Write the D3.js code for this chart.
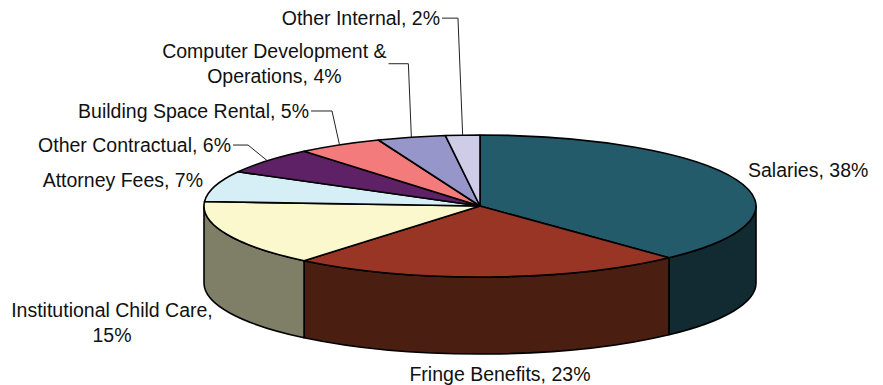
<!DOCTYPE html>
<html>
<head>
<meta charset="utf-8">
<script src="https://cdn.jsdelivr.net/npm/d3@7/dist/d3.min.js"></script>
<style>
  html, body { margin: 0; padding: 0; background: #fff; }
  svg { display: block; }
  text { font-family: "Liberation Sans", Arial, sans-serif; font-size: 19.5px; fill: #111; }
</style>
</head>
<body>
<svg id="chart" width="883" height="385"></svg>
<script>
// Expense categories and their share of total spending (percent)
const categories = [
  "Salaries",
  "Fringe Benefits",
  "Institutional Child Care",
  "Attorney Fees",
  "Other Contractual",
  "Building Space Rental",
  "Computer Development & Operations",
  "Other Internal"
];
const percents = [38, 23, 15, 7, 6, 5, 4, 2];

// Top-face and wall colours per slice
const topColors  = ["#235b6b", "#983524", "#fbf8cd", "#d6eef5", "#5f2165", "#f37b7c", "#9696ca", "#cecce6"];
const sideColors = ["#122b33", "#4a1e10", "#7f7f68", "#6b777a", "#2f1032", "#793d3e", "#4b4b65", "#676673"];

// Label placement relative to each slice's rim point; wrap = words on first line
const labelLayout = [
  { dx:  11.4, dy:  -2.9, anchor: "start"  },
  { dx:  11.3, dy: 104.0, anchor: "middle" },
  { dx: -114.7, dy: 82.8, anchor: "middle", wrap: 3 },
  { dx: -11.9, dy:   0.8, anchor: "end"    },
  { dx: -36.3, dy:  -8.7, anchor: "end",    leader: -19.3 },
  { dx: -30.5, dy: -26.9, anchor: "end",    leader: -7.5 },
  { dx: -137,  dy: -79,   anchor: "middle", wrap: 3, leader: -3 },
  { dx: -22.7, dy: -110,  anchor: "end",    leader: -4.7 }
];

const cx = 480, cy = 206, rx = 276, ry = 71, depth = 77;
const lineH = 25;

// Ellipse projection: unit circle -> screen
const sx = d3.scaleLinear().domain([-1, 1]).range([cx - rx, cx + rx]);
const sy = d3.scaleLinear().domain([-1, 1]).range([cy - ry, cy + ry]);
const pt = (a, off = 0) => [sx(Math.sin(a)), sy(-Math.cos(a)) + off];

const pie = d3.pie().sort(null).value(d => d).startAngle(0).endAngle(2 * Math.PI);
const arcs = pie(percents);

const svg = d3.select("#chart");
const gSide = svg.append("g");
const gTop = svg.append("g");
const gLabel = svg.append("g");

// Front walls: only the part of each slice between 90° and 270° faces the viewer
arcs.forEach((d, i) => {
  const a0 = Math.max(d.startAngle, Math.PI / 2);
  const a1 = Math.min(d.endAngle, 3 * Math.PI / 2);
  if (a1 <= a0) return;
  const p0 = pt(a0), p1 = pt(a1), q1 = pt(a1, depth), q0 = pt(a0, depth);
  const large = (a1 - a0) > Math.PI ? 1 : 0;
  const path = `M${p0[0]},${p0[1]} A${rx},${ry} 0 ${large} 1 ${p1[0]},${p1[1]}` +
               ` L${q1[0]},${q1[1]} A${rx},${ry} 0 ${large} 0 ${q0[0]},${q0[1]} Z`;
  gSide.append("path")
    .attr("d", path)
    .attr("fill", sideColors[i])
    .attr("stroke", "#000")
    .attr("stroke-width", 1.6)
    .attr("stroke-linejoin", "round");
});

// Top faces
arcs.forEach((d, i) => {
  const p0 = pt(d.startAngle), p1 = pt(d.endAngle);
  const large = (d.endAngle - d.startAngle) > Math.PI ? 1 : 0;
  const path = `M${cx},${cy} L${p0[0]},${p0[1]} A${rx},${ry} 0 ${large} 1 ${p1[0]},${p1[1]} Z`;
  gTop.append("path")
    .attr("d", path)
    .attr("fill", topColors[i])
    .attr("stroke", "#000")
    .attr("stroke-width", 1.6)
    .attr("stroke-linejoin", "round");
});

// Data labels with optional leader lines
arcs.forEach((d, i) => {
  const L = labelLayout[i];
  const mid = (d.startAngle + d.endAngle) / 2;
  const rim = pt(mid);
  const words = `${categories[i]}, ${percents[i]}%`.split(" ");
  const lines = L.wrap ? [words.slice(0, L.wrap).join(" "), words.slice(L.wrap).join(" ")] : [words.join(" ")];
  const t = gLabel.append("text")
    .attr("x", rim[0] + L.dx)
    .attr("y", rim[1] + L.dy)
    .attr("text-anchor", L.anchor);
  lines.forEach((s, k) => {
    t.append("tspan")
      .attr("x", rim[0] + L.dx)
      .attr("dy", k === 0 ? 0 : lineH)
      .text(s);
  });
  if (L.leader !== undefined) {
    const bb = t.node().getBBox();
    const y0 = bb.y + bb.height / 2;
    const x0 = bb.x + bb.width + 2;
    const ex = rim[0] + L.leader;
    gLabel.append("path")
      .attr("d", d3.line()([[x0, y0], [ex, y0], rim]))
      .attr("fill", "none")
      .attr("stroke", "#222")
      .attr("stroke-width", 1);
  }
});
</script>
</body>
</html>
